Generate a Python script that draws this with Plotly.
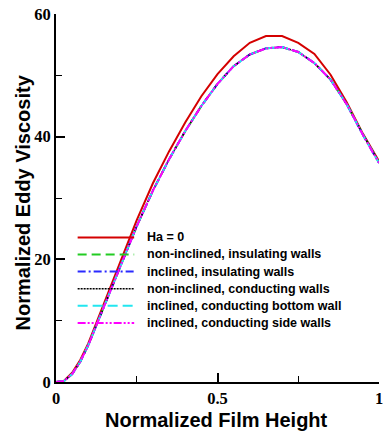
import plotly.graph_objects as go

# Normalized film height (shared abscissa for every case)
film_height = [0, 0.025, 0.05, 0.075, 0.1, 0.125, 0.15, 0.175, 0.2, 0.25, 0.3, 0.35,
               0.4, 0.45, 0.5, 0.55, 0.6, 0.65, 0.7, 0.75, 0.8, 0.85, 0.9, 0.95, 1.0]

# Normalized eddy viscosity for each case
ha_zero = [0, 0.2, 1.5, 3.6, 6.3, 9.6, 12.9, 16.3, 19.7, 26.4, 32.4, 37.6,
           42.3, 46.6, 50.2, 53.1, 55.3, 56.4, 56.4, 55.3, 53.5, 50.1, 45.6, 40.5, 36.0]
noninc_insulating = [0, 0.15, 1.3, 3.3, 6.0, 9.2, 12.4, 15.7, 19.0, 25.4, 31.2, 36.3,
                     40.9, 45.0, 48.6, 51.5, 53.4, 54.4, 54.6, 53.8, 52.0, 49.3, 45.3, 40.4, 35.8]
inc_insulating = [0, 0.15, 1.3, 3.3, 6.0, 9.2, 12.4, 15.7, 19.0, 25.4, 31.2, 36.3,
                  40.9, 45.0, 48.6, 51.5, 53.4, 54.4, 54.6, 53.8, 52.0, 49.3, 45.3, 40.3, 35.7]
noninc_conducting = [0, 0.15, 1.3, 3.3, 6.0, 9.2, 12.4, 15.7, 19.0, 25.4, 31.2, 36.3,
                     40.9, 45.0, 48.6, 51.5, 53.4, 54.4, 54.6, 53.8, 52.0, 49.3, 45.3, 40.4, 35.8]
inc_cond_bottom = [0, 0.15, 1.3, 3.3, 6.0, 9.2, 12.4, 15.7, 19.0, 25.4, 31.2, 36.3,
                   40.9, 45.0, 48.6, 51.5, 53.4, 54.4, 54.6, 53.8, 52.0, 49.3, 45.3, 40.3, 35.7]
inc_cond_side = [0, 0.15, 1.3, 3.3, 6.0, 9.2, 12.4, 15.7, 19.0, 25.4, 31.2, 36.3,
                 40.9, 45.0, 48.6, 51.5, 53.4, 54.4, 54.6, 53.8, 52.0, 49.3, 45.3, 40.3, 35.7]

labels = ["Ha = 0",
          "non-inclined, insulating walls",
          "inclined, insulating walls",
          "non-inclined, conducting walls",
          "inclined, conducting bottom wall",
          "inclined, conducting side walls"]
series = [ha_zero, noninc_insulating, inc_insulating, noninc_conducting,
          inc_cond_bottom, inc_cond_side]

colors = ["#d40000", "#22cc22", "#2a2aff", "#000000", "#22e6f0", "#ff00ff"]
dashes = ["solid", "9px,5px", "8px,3px,2px,3px", "2px,1px", "10px,5px",
          "8px,2px,2px,2px,2px,2px"]
widths = [2, 2, 2, 1.5, 2, 2]

x_ticks = [0, 0.5, 1]
x_ticktext = ["0", "0.5", "1"]
y_ticks = [0, 20, 40, 60]
y_ticktext = ["0", "20", "40", "60"]

x_title = "Normalized Film Height"
y_title = "Normalized Eddy Viscosity"

fig = go.Figure()
for lab, ys, c, d, w in zip(labels, series, colors, dashes, widths):
    fig.add_trace(go.Scatter(x=film_height, y=ys, mode="lines", name=lab,
                             line=dict(color=c, dash=d, width=w),
                             showlegend=False))

# Key drawn inside the plotting area
key_x0, key_x1, key_tx = 0.067, 0.242, 0.276
key_top, key_step = 0.393, 0.0465
for i, (lab, c, d, w) in enumerate(zip(labels, colors, dashes, widths)):
    yy = key_top - i * key_step
    fig.add_shape(type="line", xref="paper", yref="paper",
                  x0=key_x0, x1=key_x1, y0=yy, y1=yy,
                  line=dict(color=c, dash=d, width=w))
    fig.add_annotation(xref="paper", yref="paper", x=key_tx, y=yy,
                       text="<b>" + lab + "</b>", showarrow=False,
                       xanchor="left", yanchor="middle",
                       font=dict(family="Liberation Sans", size=12.5, color="black"))

tick_font = dict(family="Liberation Serif", size=16.5, color="black")
title_font = dict(family="Liberation Sans", size=20, color="black")

# Axis titles placed as annotations so they sit tight against the tick labels
fig.add_annotation(xref="paper", yref="paper", x=0.498, y=-0.104,
                   text="<b>" + x_title + "</b>", showarrow=False,
                   xanchor="center", yanchor="middle", font=title_font)
fig.add_annotation(xref="paper", yref="paper", x=-0.103, y=0.487,
                   text="<b>" + y_title + "</b>", showarrow=False, textangle=-90,
                   xanchor="center", yanchor="middle", font=title_font)

fig.update_xaxes(range=[0, 1], tickvals=x_ticks,
                 ticktext=["<b>" + t + "</b>" for t in x_ticktext],
                 ticks="inside", ticklen=9, tickwidth=1.5, tickcolor="black",
                 showline=True, linewidth=2, linecolor="black",
                 showgrid=False, zeroline=False, tickfont=tick_font,
                 ticklabeloverflow="allow", ticklabelstandoff=0,
                 minor=dict(tickvals=[0.25, 0.75], ticks="inside", ticklen=6,
                            tickwidth=1, tickcolor="black"))
fig.update_yaxes(range=[0, 60], tickvals=y_ticks,
                 ticktext=["<b>" + t + "</b>" for t in y_ticktext],
                 ticks="inside", ticklen=9, tickwidth=1.5, tickcolor="black",
                 showline=True, linewidth=2, linecolor="black",
                 showgrid=False, zeroline=False, tickfont=tick_font,
                 ticklabeloverflow="allow",
                 minor=dict(tickvals=[10, 30, 50], ticks="inside", ticklen=6,
                            tickwidth=1, tickcolor="black"))

fig.update_layout(width=387, height=432,
                  margin=dict(l=56, r=4, t=14, b=50),
                  paper_bgcolor="white", plot_bgcolor="white")

fig.write_html("out.html")
